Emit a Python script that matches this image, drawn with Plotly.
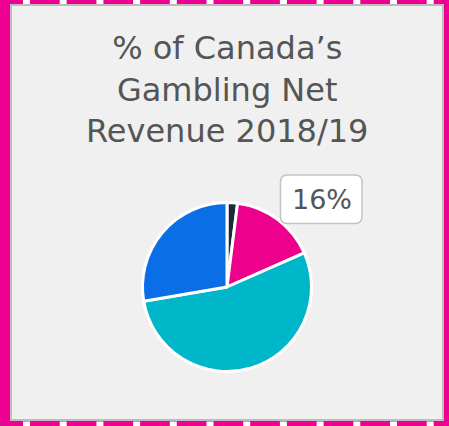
import plotly.graph_objects as go

# ---- data ----
categories = ["Bingo", "Electronic gaming machines", "Casinos", "Lotteries"]
shares = [2.0, 16.4, 53.9, 27.7]
slice_colors = ["#1d2a35", "#ec008c", "#00b6c9", "#0a6fe6"]
highlight = "Electronic gaming machines"
title_lines = ["% of Canada’s", "Gambling Net", "Revenue 2018/19"]

W, H = 449, 426
PINK = "#ee0093"
FONT = "DejaVu Sans, Liberation Sans, Arial, sans-serif"


def px(x):
    return x / W


def py(y):
    return 1 - y / H


fig = go.Figure()

# pie
cx, cy, r = 227, 287, 84.5
fig.add_trace(go.Pie(
    labels=categories,
    values=shares,
    sort=False,
    direction="clockwise",
    rotation=0,
    marker=dict(colors=slice_colors, line=dict(color="white", width=3)),
    textinfo="none",
    hoverinfo="label+percent",
    showlegend=False,
    domain=dict(x=[px(cx - r), px(cx + r)], y=[py(cy + r), py(cy - r)]),
))

shapes = []
# panel
shapes.append(dict(type="rect", xref="paper", yref="paper",
                   x0=px(11), x1=px(443), y0=py(420), y1=py(5),
                   fillcolor="#f0f0f0", line=dict(color="#bdbdbd", width=2),
                   layer="below"))
# dashed gaps of the pink frame (top and bottom edges)
k = 0
while True:
    gx = 23 + 36.7 * k
    if gx > W:
        break
    for (ya, yb) in [(0, 4), (421.5, 426)]:
        shapes.append(dict(type="rect", xref="paper", yref="paper",
                           x0=px(gx), x1=px(min(gx + 7, W)), y0=py(yb), y1=py(ya),
                           fillcolor="white", line=dict(width=0), layer="below"))
    k += 1

# rounded callout box
bx0, by0, bx1, by1, rr = 280.5, 175, 362, 223.5, 7
path = (f"M {px(bx0 + rr)},{py(by0)} L {px(bx1 - rr)},{py(by0)} "
        f"Q {px(bx1)},{py(by0)} {px(bx1)},{py(by0 + rr)} "
        f"L {px(bx1)},{py(by1 - rr)} Q {px(bx1)},{py(by1)} {px(bx1 - rr)},{py(by1)} "
        f"L {px(bx0 + rr)},{py(by1)} Q {px(bx0)},{py(by1)} {px(bx0)},{py(by1 - rr)} "
        f"L {px(bx0)},{py(by0 + rr)} Q {px(bx0)},{py(by0)} {px(bx0 + rr)},{py(by0)} Z")
shapes.append(dict(type="path", xref="paper", yref="paper", path=path,
                   fillcolor="white", line=dict(color="#c4c4c4", width=1.5)))

total = sum(shares)
pct = round(shares[categories.index(highlight)] / total * 100)

annotations = [
    dict(
        text=f"{pct}%", xref="paper", yref="paper", x=px(321.5), y=py(199.5),
        xanchor="center", yanchor="middle", showarrow=False,
        font=dict(family=FONT, size=27, color="#555555"),
    ),
    dict(
        text="<br>".join(title_lines), xref="paper", yref="paper",
        x=px(226.5), y=py(90), xanchor="center", yanchor="middle",
        showarrow=False, align="center",
        font=dict(family=FONT, size=32, color="#555555"),
    ),
]

fig.update_layout(
    width=W, height=H,
    margin=dict(l=0, r=0, t=0, b=0),
    paper_bgcolor=PINK,
    plot_bgcolor=PINK,
    shapes=shapes,
    annotations=annotations,
)

fig.write_html(
    "out.html",
    config={"displayModeBar": False},
    post_script="document.body.style.margin='0';document.body.style.overflow='hidden';",
)
